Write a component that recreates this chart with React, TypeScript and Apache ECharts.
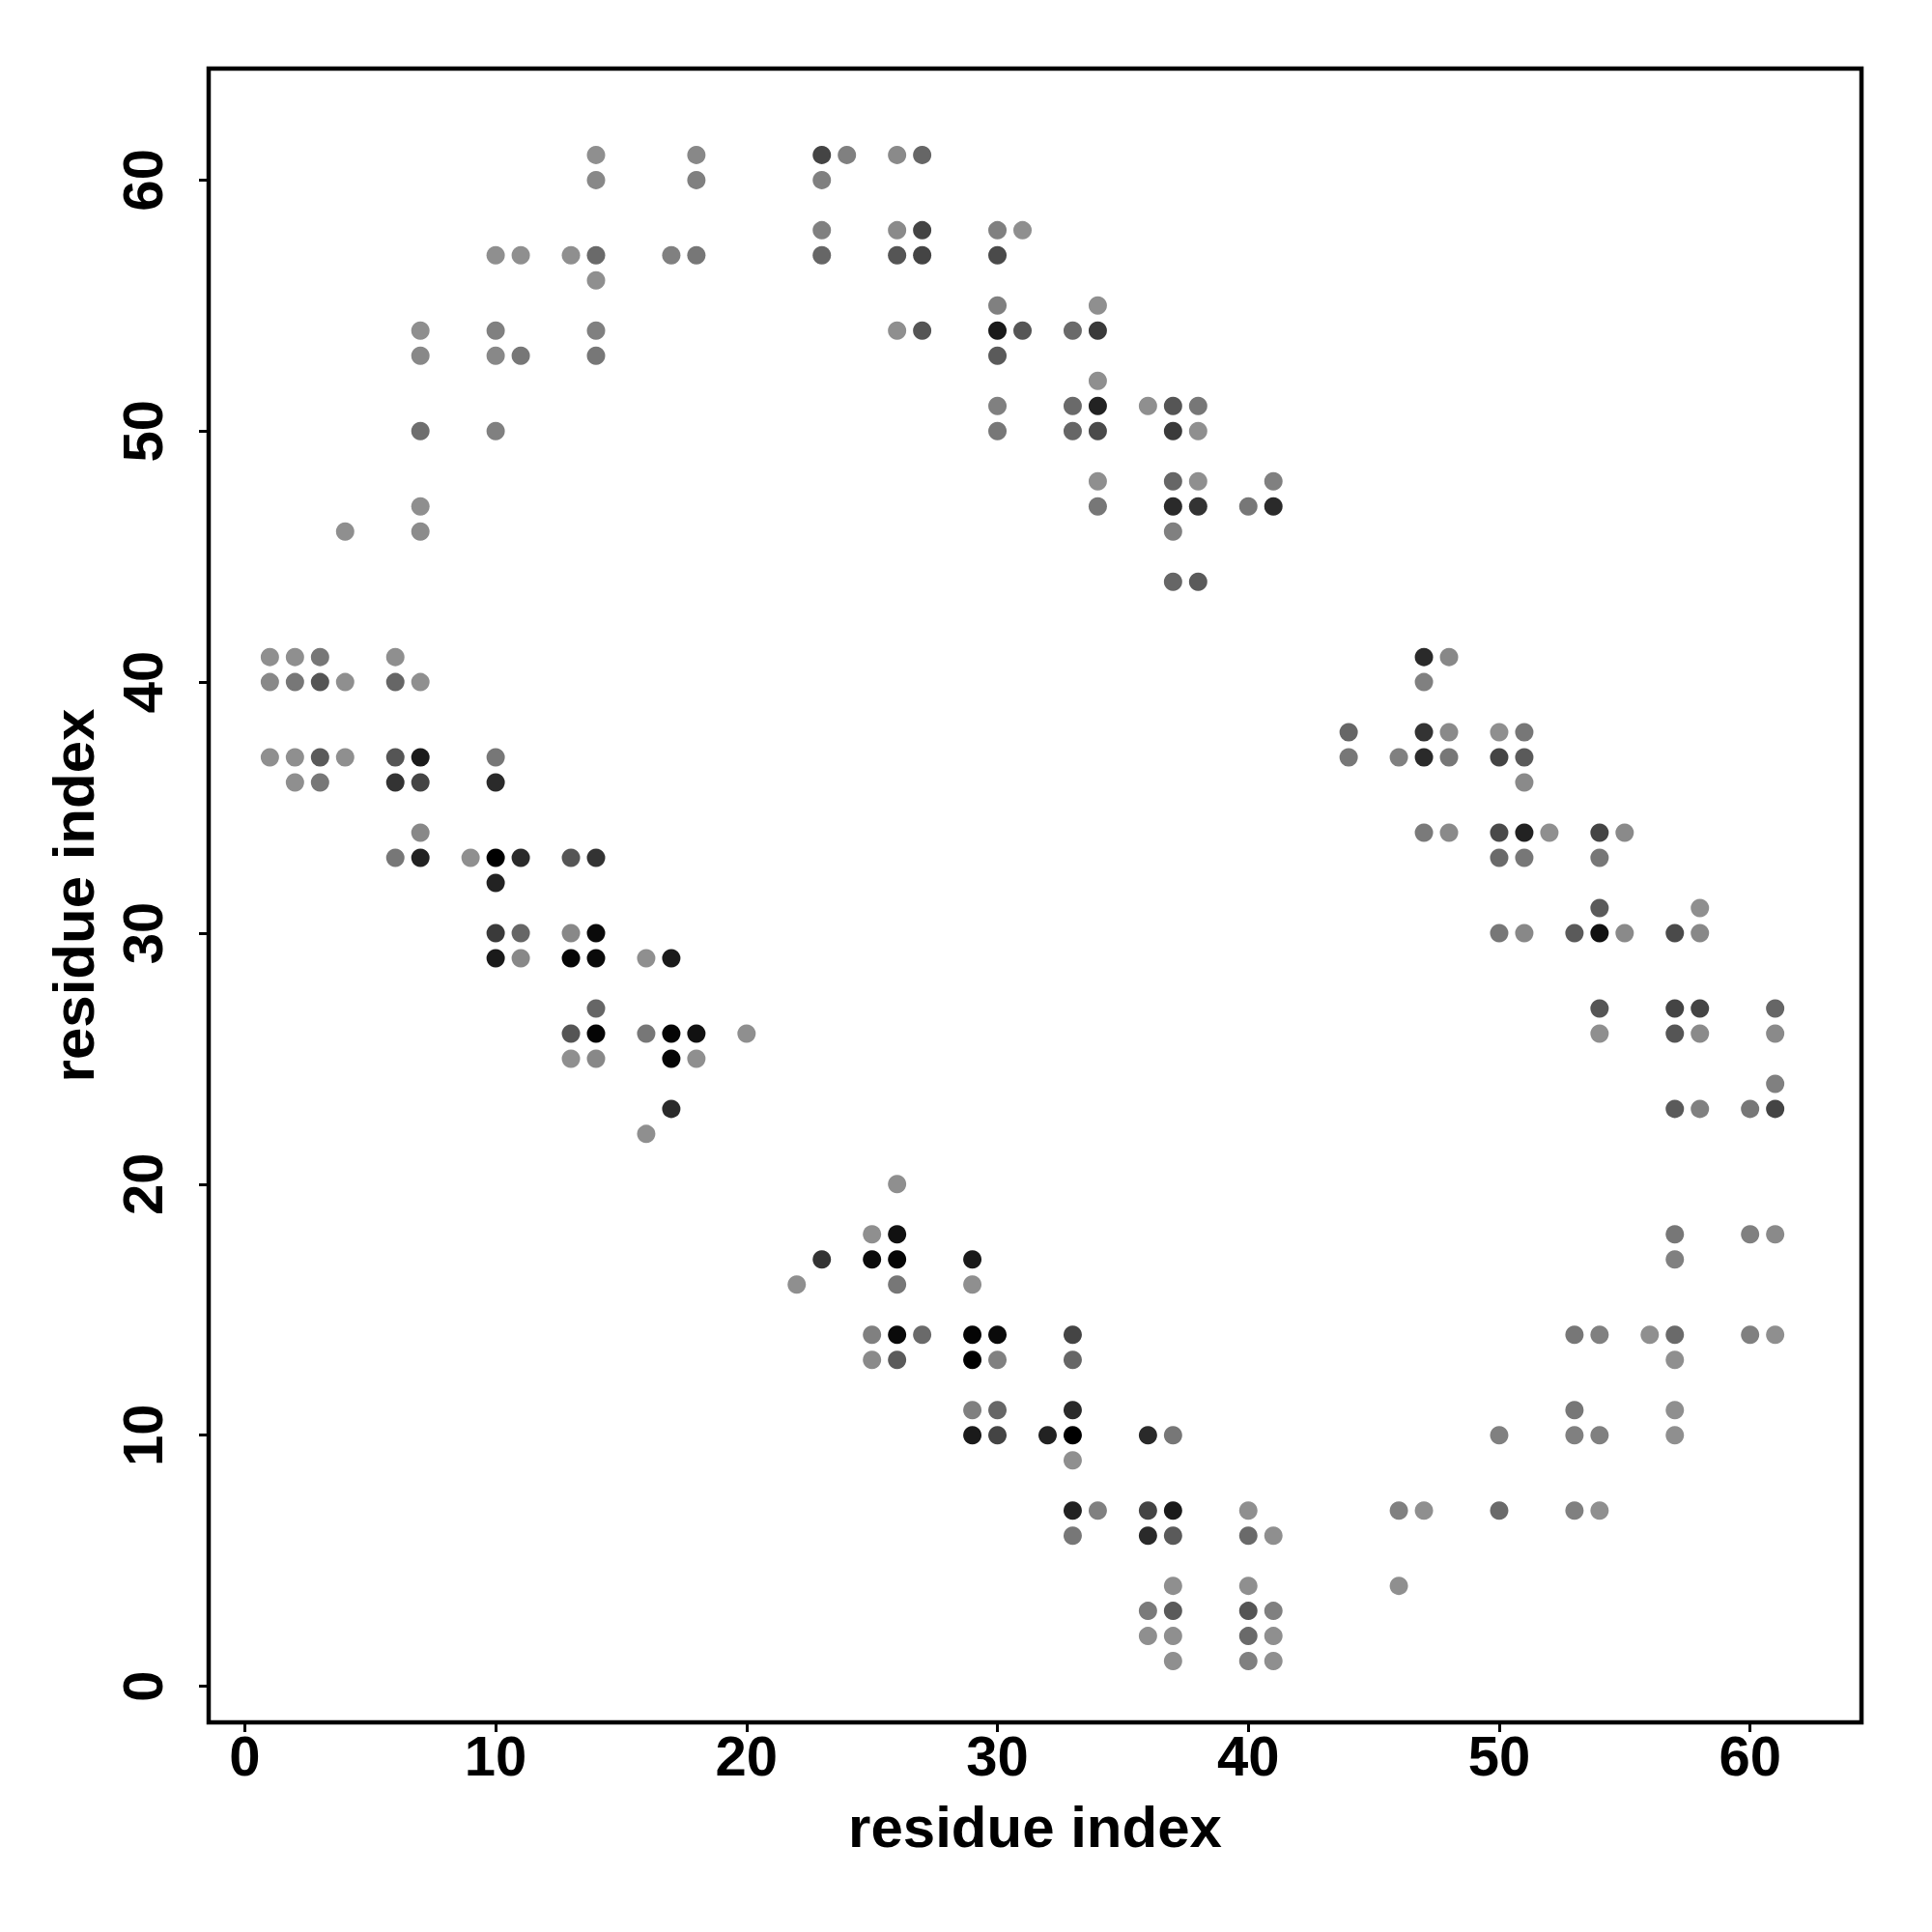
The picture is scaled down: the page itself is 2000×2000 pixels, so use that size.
import React, { useEffect, useRef } from "react";
import * as echarts from "echarts";

// contacts: [residue i, residue j, grey level 0-255]
const contacts: number[][] = [
  [14, 61, 143], [18, 61, 136], [14, 60, 136], [18, 60, 128],
  [10, 57, 143], [11, 57, 143], [13, 57, 143], [14, 57, 106], [17, 57, 128], [18, 57, 119],
  [14, 56, 143],
  [7, 54, 143], [10, 54, 128], [14, 54, 128],
  [7, 53, 136], [10, 53, 136], [11, 53, 119], [14, 53, 119],
  [7, 50, 110], [10, 50, 128],
  [7, 47, 143], [4, 46, 143], [7, 46, 140],
  [1, 41, 143], [2, 41, 143], [3, 41, 119], [6, 41, 143],
  [1, 40, 136], [2, 40, 119], [3, 40, 85], [4, 40, 143], [6, 40, 102], [7, 40, 143],
  [1, 37, 143], [2, 37, 143], [3, 37, 90], [4, 37, 143], [6, 37, 85], [7, 37, 26], [10, 37, 119],
  [2, 36, 143], [3, 36, 119], [6, 36, 51], [7, 36, 68], [10, 36, 42],
  [7, 34, 136],
  [6, 33, 119], [7, 33, 34], [9, 33, 143], [10, 33, 0], [11, 33, 42], [13, 33, 85], [14, 33, 51],
  [10, 32, 34],
  [10, 30, 58], [11, 30, 102], [13, 30, 136], [14, 30, 10],
  [10, 29, 26], [11, 29, 136], [13, 29, 5], [14, 29, 10], [16, 29, 143], [17, 29, 26],
  [14, 27, 102],
  [13, 26, 85], [14, 26, 5], [16, 26, 119], [17, 26, 5], [18, 26, 17], [20, 26, 143],
  [13, 25, 143], [14, 25, 136], [17, 25, 5], [18, 25, 143],
  [17, 23, 42], [16, 22, 143],
  [23, 61, 68], [24, 61, 128], [26, 61, 138], [27, 61, 102],
  [23, 60, 128],
  [23, 58, 128], [26, 58, 138], [27, 58, 68], [30, 58, 128], [31, 58, 143],
  [23, 57, 102], [26, 57, 85], [27, 57, 68], [30, 57, 74],
  [30, 55, 128], [34, 55, 143],
  [26, 54, 143], [27, 54, 85], [30, 54, 26], [31, 54, 85], [33, 54, 106], [34, 54, 58],
  [30, 53, 90], [34, 52, 143],
  [30, 51, 128], [33, 51, 106], [34, 51, 34], [36, 51, 143], [37, 51, 85], [38, 51, 119],
  [30, 50, 119], [33, 50, 102], [34, 50, 74], [37, 50, 58], [38, 50, 143],
  [34, 48, 143], [37, 48, 102], [38, 48, 143], [41, 48, 128],
  [34, 47, 119], [37, 47, 42], [38, 47, 51], [40, 47, 119], [41, 47, 42],
  [37, 46, 128], [37, 44, 102], [38, 44, 90],
  [47, 41, 42], [48, 41, 136], [47, 40, 128],
  [44, 38, 102], [47, 38, 51], [48, 38, 138], [50, 38, 143], [51, 38, 119],
  [44, 37, 119], [46, 37, 128], [47, 37, 42], [48, 37, 119], [50, 37, 68], [51, 37, 90],
  [51, 36, 138],
  [47, 34, 122], [48, 34, 138], [50, 34, 74], [51, 34, 34], [52, 34, 143], [54, 34, 68], [55, 34, 138],
  [50, 33, 106], [51, 33, 119], [54, 33, 119],
  [54, 31, 90], [58, 31, 143],
  [50, 30, 119], [51, 30, 136], [53, 30, 90], [54, 30, 17], [55, 30, 138], [57, 30, 74], [58, 30, 136],
  [54, 27, 85], [57, 27, 68], [58, 27, 68], [61, 27, 102],
  [54, 26, 143], [57, 26, 85], [58, 26, 138], [61, 26, 138],
  [61, 24, 128],
  [57, 23, 90], [58, 23, 128], [60, 23, 119], [61, 23, 68],
  [26, 20, 143],
  [25, 18, 143], [26, 18, 17],
  [23, 17, 51], [25, 17, 10], [26, 17, 5], [29, 17, 26],
  [22, 16, 143], [26, 16, 119], [29, 16, 143],
  [25, 14, 128], [26, 14, 10], [27, 14, 106], [29, 14, 5], [30, 14, 10], [33, 14, 68],
  [25, 13, 138], [26, 13, 90], [29, 13, 0], [30, 13, 128], [33, 13, 102],
  [29, 11, 128], [30, 11, 102], [33, 11, 42],
  [29, 10, 26], [30, 10, 68], [32, 10, 34], [33, 10, 0], [36, 10, 42], [37, 10, 119],
  [33, 9, 143],
  [33, 7, 34], [34, 7, 128], [36, 7, 68], [37, 7, 26], [40, 7, 143],
  [33, 6, 119], [36, 6, 42], [37, 6, 90], [40, 6, 106], [41, 6, 143],
  [37, 4, 143], [40, 4, 143],
  [36, 3, 122], [37, 3, 90], [40, 3, 85], [41, 3, 128],
  [36, 2, 143], [37, 2, 143], [40, 2, 106], [41, 2, 143],
  [37, 1, 143], [40, 1, 128], [41, 1, 143],
  [57, 18, 119], [60, 18, 128], [61, 18, 138],
  [57, 17, 128],
  [53, 14, 119], [54, 14, 128], [56, 14, 143], [57, 14, 106], [60, 14, 128], [61, 14, 143],
  [57, 13, 143],
  [53, 11, 119], [57, 11, 143],
  [50, 10, 128], [53, 10, 128], [54, 10, 128], [57, 10, 143],
  [46, 7, 128], [47, 7, 143], [50, 7, 106], [53, 7, 128], [54, 7, 143],
  [46, 4, 143],
];

const tickValues = [0, 10, 20, 30, 40, 50, 60];
const axisMin = -1.44;
const axisMax = 64.44;
const xTitle = "residue index";
const yTitle = "residue index";

const FONT = '"Liberation Sans", Arial, Helvetica, sans-serif';

export default function App() {
  const ref = useRef<HTMLDivElement>(null);
  useEffect(() => {
    if (!ref.current) return;
    const chart = echarts.init(ref.current, null, { renderer: "svg" });
    const data = contacts.map(([i, j, g]) => ({
      value: [i, j],
      itemStyle: { color: `rgb(${g},${g},${g})` },
    }));
    const axisCommon = {
      type: "value" as const,
      min: axisMin,
      max: axisMax,
      splitLine: { show: false },
      axisLine: { show: false, onZero: false },
      axisTick: {
        show: true,
        length: 10,
        inside: false,
        customValues: tickValues,
        lineStyle: { color: "#000", width: 3 },
      },
      nameLocation: "middle" as const,
      nameTextStyle: { fontFamily: FONT, fontWeight: "bold" as const, fontSize: 60, color: "#000" },
    };
    chart.setOption({
      animation: false,
      backgroundColor: "#fff",
      grid: {
        left: 216,
        right: 73,
        top: 71,
        bottom: 217,
        show: true,
        borderColor: "#000",
        borderWidth: 4.5,
        backgroundColor: "transparent",
      },
      xAxis: {
        ...axisCommon,
        name: xTitle,
        nameGap: 78,
        axisLabel: {
          customValues: tickValues,
          fontFamily: FONT,
          fontWeight: "bold",
          fontSize: 58,
          color: "#000",
          margin: 5,
        },
      },
      yAxis: {
        ...axisCommon,
        name: yTitle,
        nameGap: 110,
        nameRotate: 90,
        axisLabel: {
          customValues: tickValues,
          rotate: 90,
          fontFamily: FONT,
          fontWeight: "bold",
          fontSize: 58,
          color: "#000",
          margin: 40,
        },
      },
      series: [
        {
          type: "scatter",
          data,
          symbol: "circle",
          symbolSize: 19,
          itemStyle: { opacity: 1 },
        },
      ],
    });
    return () => chart.dispose();
  }, []);
  return (
    <div
      ref={ref}
      style={{ position: "absolute", left: 0, top: 0, width: 2000, height: 2000 }}
    />
  );
}
